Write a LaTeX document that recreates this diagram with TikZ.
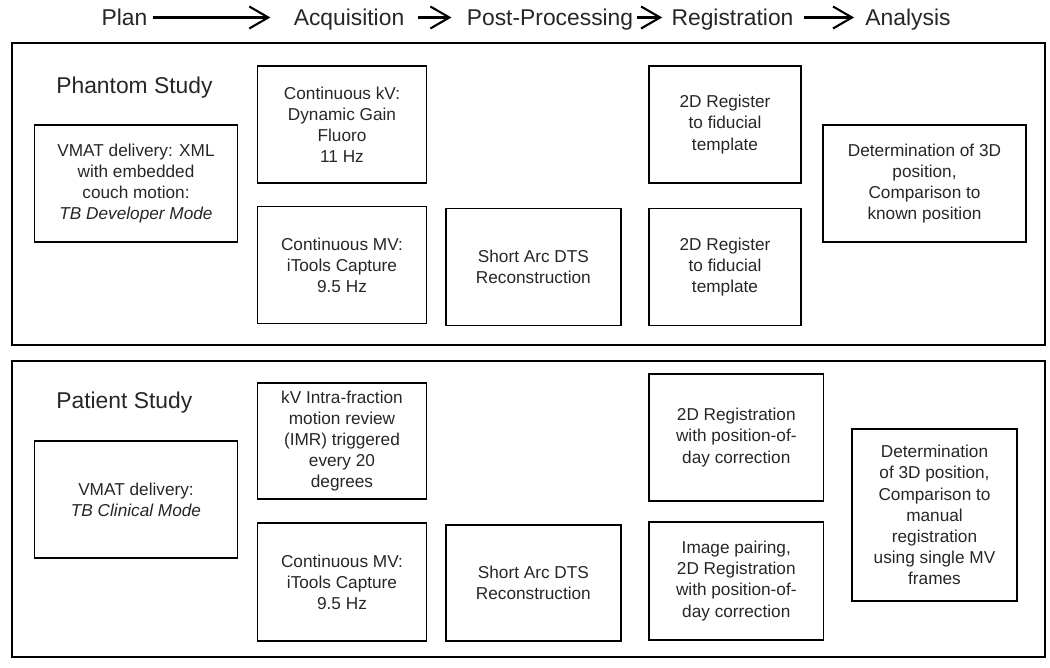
\documentclass[tikz,border=0pt]{standalone}
\usepackage{fontspec}
\setmainfont{Liberation Sans}
\usetikzlibrary{arrows.meta}
\begin{document}
\begin{tikzpicture}
	[x=0.2mm,y=-0.2mm,
	box/.style={rectangle,draw,line width=1pt,align=center,minimum height=23.4mm,inner sep=1pt,text=black!85,font=\fontsize{9.8}{12}\selectfont},
	panel/.style={rectangle,draw,line width=1.1pt,minimum width=206.6mm},
	head/.style={inner sep=0pt,text height=9.3pt,text depth=0pt,text=black!85,font=\fontsize{13}{15}\selectfont},
	>={Straight Barb[length=3.8mm,width=4.4mm]}]
	\useasboundingbox (0,0) rectangle (1050,668);
	% stages
	\node[head,name=plan]at(124.5,17.5){Plan};
	\node[head,name=acq]at(349,17.5){Acquisition};
	\node[head,name=post]at(550,17.5){Post-Processing};
	\node[head,name=reg]at(732.5,17.5){Registration};
	\node[head,name=ana]at(908,17.5){Analysis};
	\draw[->,line width=1.2pt,shorten <=1mm,shorten >=4.6mm] (plan)--(acq);
	\draw[->,line width=1.2pt,shorten <=2.6mm,shorten >=3mm] (acq)--(post);
	\draw[->,line width=1.2pt,shorten <=0.6mm,shorten >=1.8mm] (post)--(reg);
	\draw[->,line width=1.2pt,shorten <=2mm,shorten >=2.2mm] (reg)--(ana);
	% phantom study
	\node[panel,minimum height=60.4mm,name=phantom]at(528.5,194){};
	\node[head,anchor=west,name=title1]at(56,85){Phantom Study};
	\node[box,minimum width=40.6mm,name=vmat1]at(136,183.4){VMAT delivery: XML\\with embedded\\couch motion:\\\textit{TB Developer Mode}};
	\node[box,minimum width=33.8mm,name=kv1]at(342,124.5){Continuous kV:\\Dynamic Gain\\Fluoro\\11 Hz};
	\node[box,minimum width=33.8mm,name=mv1]at(342,265){Continuous MV:\\iTools Capture\\9.5 Hz};
	\node[box,minimum width=34.9mm,name=dts1]at(533.4,267){Short Arc DTS\\Reconstruction};
	\node[box,minimum width=30.3mm,name=fid1]at(725,124.5){2D Register\\to fiducial\\template};
	\node[box,minimum width=30.3mm,name=fid2]at(725,267){2D Register\\to fiducial\\template};
	\node[box,minimum width=40.6mm,name=det1]at(924.5,183.4){Determination of 3D\\position,\\Comparison to\\known position};
	% patient study
	\node[panel,minimum height=59.2mm,name=patient]at(528.5,509){};
	\node[head,anchor=west,name=title2]at(56,400.6){Patient Study};
	\node[box,minimum width=40.6mm,name=vmat2]at(136,499.5){VMAT delivery:\\\textit{TB Clinical Mode}};
	\node[box,minimum width=33.8mm,minimum height=23.2mm,name=kv2]at(342,441){kV Intra-fraction\\motion review\\(IMR) triggered\\every 20\\degrees};
	\node[box,minimum width=33.8mm,minimum height=23.5mm,name=mv2]at(342,582){Continuous MV:\\iTools Capture\\9.5 Hz};
	\node[box,minimum width=34.9mm,minimum height=23.3mm,name=dts2]at(533.4,583){Short Arc DTS\\Reconstruction};
	\node[box,minimum width=34.9mm,minimum height=25.4mm,name=pod1]at(736.3,437.5){2D Registration\\with position-of-\\day correction};
	\node[box,minimum width=34.9mm,minimum height=23.6mm,name=pod2]at(736.3,581){Image pairing,\\2D Registration\\with position-of-\\day correction};
	\node[box,minimum width=33mm,minimum height=34.4mm,name=det2]at(934.5,515){Determination\\of 3D position,\\Comparison to\\manual\\registration\\using single MV\\frames};
\end{tikzpicture}
\end{document}
